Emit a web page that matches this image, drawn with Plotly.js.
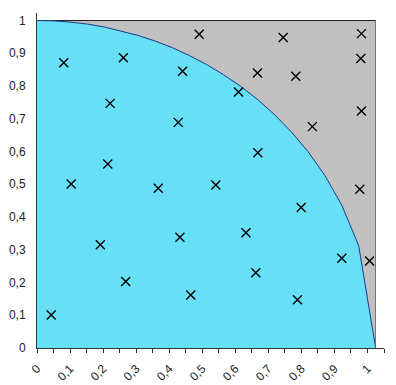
<!DOCTYPE html>
<html>
<head>
<meta charset="utf-8">
<script src="https://cdn.plot.ly/plotly-3.0.1.min.js"></script>
<style>html,body{margin:0;padding:0;background:#fff;}#chart{width:396px;height:385px;}</style>
</head>
<body>
<div id="chart"></div>
<script>
// Quarter-circle boundary, sampled every 0.05
var curveX = [0, 0.05, 0.1, 0.15, 0.2, 0.25, 0.3, 0.35, 0.4, 0.45, 0.5, 0.55, 0.6, 0.65, 0.7, 0.75, 0.8, 0.85, 0.9, 0.95, 1];
var curveY = [1, 0.999, 0.995, 0.989, 0.98, 0.968, 0.954, 0.937, 0.917, 0.893, 0.866, 0.835, 0.8, 0.76, 0.714, 0.661, 0.6, 0.527, 0.436, 0.312, 0];

// Random sample points
var pointX = [0.079, 0.255, 0.430, 0.216, 0.417, 0.209, 0.101, 0.358,
              0.479, 0.727, 0.958, 0.956, 0.651, 0.764, 0.595, 0.958, 0.813, 0.652, 0.528, 0.953,
              0.187, 0.422, 0.262, 0.454, 0.042,
              0.780, 0.617, 0.900, 0.982, 0.646, 0.769];
var pointY = [0.871, 0.886, 0.845, 0.747, 0.689, 0.562, 0.501, 0.488,
              0.958, 0.948, 0.960, 0.884, 0.840, 0.830, 0.782, 0.724, 0.676, 0.596, 0.498, 0.485,
              0.315, 0.338, 0.203, 0.162, 0.101,
              0.429, 0.352, 0.274, 0.266, 0.230, 0.147];

// Axis ticks
var tickVals = [0, 0.1, 0.2, 0.3, 0.4, 0.5, 0.6, 0.7, 0.8, 0.9, 1];
var tickText = ['0', '0,1', '0,2', '0,3', '0,4', '0,5', '0,6', '0,7', '0,8', '0,9', '1'];

var font = {family: 'Liberation Sans, Arial, sans-serif', size: 12, color: '#222'};

var traces = [
  {x: [], y: [], xaxis: 'x', yaxis: 'y', type: 'scatter', mode: 'markers', showlegend: false, hoverinfo: 'skip'},
  {
    x: curveX, y: curveY, xaxis: 'x2', yaxis: 'y', type: 'scatter', mode: 'lines',
    fill: 'tozeroy', fillcolor: '#66dff7',
    line: {color: '#1a3a8a', width: 1}, showlegend: false
  },
  {
    x: pointX, y: pointY, xaxis: 'x2', yaxis: 'y', type: 'scatter', mode: 'markers',
    marker: {symbol: 'x-thin-open', size: 9, color: '#000', line: {color: '#000', width: 1.4}},
    showlegend: false
  }
];

var layout = {
  width: 396, height: 385,
  margin: {l: 36.7, r: 11.7, t: 12.7, b: 36.7},
  paper_bgcolor: '#fff', plot_bgcolor: '#fff',
  separators: ', ',
  font: font,
  showlegend: false,
  xaxis: {
    range: [0, 1.05], domain: [0, 1], anchor: 'y',
    tickvals: tickVals, ticktext: tickText, tickangle: -45,
    ticks: 'outside', ticklen: 4, tickcolor: '#333', tickwidth: 1,
    minor: {dtick: 0.05, tick0: 0, ticks: 'outside', ticklen: 4, tickcolor: '#333', showgrid: false},
    ticklabelstandoff: 4,
    showgrid: false, zeroline: false, showline: true, linecolor: '#333', linewidth: 1,
    tickfont: font, fixedrange: true
  },
  xaxis2: {
    range: [0, 1], domain: [0, 0.976], anchor: 'y', visible: false,
    showgrid: false, zeroline: false, fixedrange: true
  },
  yaxis: {
    range: [0, 1.023], anchor: 'x',
    tickvals: tickVals, ticktext: tickText,
    ticks: '', ticklabelstandoff: 8,
    showgrid: false, zeroline: false, showline: true, linecolor: '#333', linewidth: 1,
    layer: 'below traces',
    tickfont: font, fixedrange: true
  },
  shapes: [{
    type: 'rect', xref: 'x2', yref: 'y', x0: 0, x1: 1, y0: 0, y1: 1,
    fillcolor: '#c0c0c0', line: {color: '#222', width: 1}, layer: 'below'
  }]
};

Plotly.newPlot('chart', traces, layout, {displayModeBar: false, staticPlot: true});
</script>
</body>
</html>
